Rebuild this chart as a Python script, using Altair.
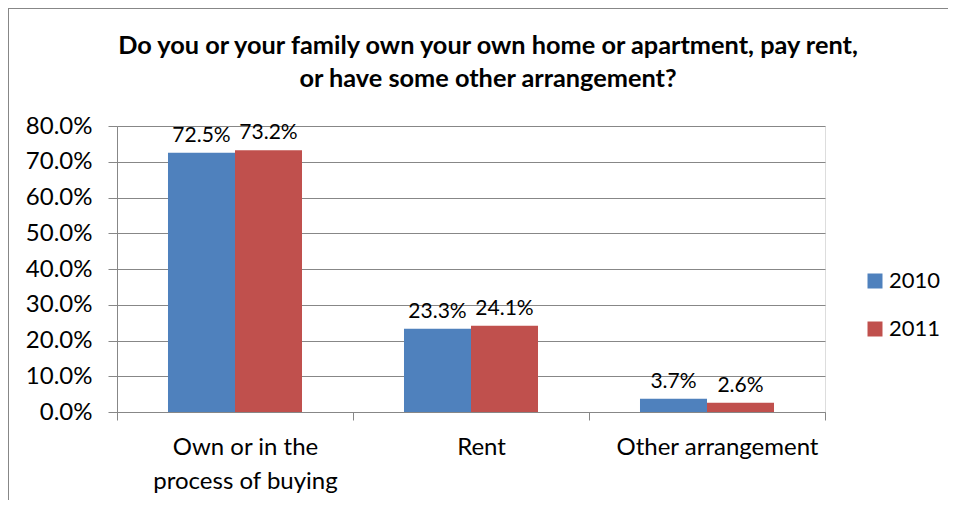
import altair as alt
import pandas as pd

categories = ["Own or in the process of buying", "Rent", "Other arrangement"]
years = ["2010", "2011"]
values_2010 = [72.5, 23.3, 3.7]
values_2011 = [73.2, 24.1, 2.6]
colors = ["#4F81BD", "#C0504D"]
y_ticks = [0, 0.1, 0.2, 0.3, 0.4, 0.5, 0.6, 0.7, 0.8]

rows = []
for c, v in zip(categories, values_2010):
    rows.append({"category": c, "year": "2010", "pct": v})
for c, v in zip(categories, values_2011):
    rows.append({"category": c, "year": "2011", "pct": v})
df = pd.DataFrame(rows)

FONT = "Lato"
GRID = "#878787"

label_expr = ("datum.label == 'Own or in the process of buying' ? "
              "['Own or in the', 'process of buying\u00a0\u00a0\u00a0'] : datum.label")

base = alt.Chart(df).transform_calculate(frac="datum.pct / 100").encode(
    x=alt.X("category:N", sort=categories, title=None,
            scale=alt.Scale(paddingInner=0, paddingOuter=0),
            axis=alt.Axis(labelAngle=0, labelExpr=label_expr, labelFontSize=24,
                          labelFont=FONT, labelColor="#000000", labelLineHeight=34,
                          labelPadding=15, labelLimit=400, labelOffset=10,
                          tickBand="extent", tickSize=8, tickColor=GRID,
                          domainColor=GRID, grid=False, labelBaseline="top")),
    xOffset=alt.XOffset("year:N", sort=years,
                        scale=alt.Scale(paddingInner=0, paddingOuter=0.761)),
    y=alt.Y("frac:Q", title=None,
            scale=alt.Scale(domain=[0, 0.8], nice=False, zero=True),
            axis=alt.Axis(format=".1%", values=y_ticks, labelFontSize=24,
                          labelFont=FONT, labelColor="#000000", labelPadding=16,
                          tickSize=9, tickColor=GRID, domainColor=GRID,
                          gridColor=GRID, gridOpacity=1)),
)

bars = base.mark_bar(stroke=None).encode(
    color=alt.Color("year:N", sort=years,
                    scale=alt.Scale(domain=years, range=colors),
                    legend=alt.Legend(title=None, orient="none", legendX=747,
                                      legendY=144, padding=0, symbolType="square",
                                      symbolSize=225, symbolStrokeWidth=0,
                                      labelFontSize=22, labelFont=FONT,
                                      labelColor="#000000", labelOffset=3,
                                      rowPadding=26))
)

labels = base.mark_text(baseline="alphabetic", dy=-11, fontSize=21,
                        font=FONT, color="#000000").encode(
    text=alt.Text("frac:Q", format=".1%")
)

frame_df = pd.DataFrame({"k": [0]})
left_border = alt.Chart(frame_df).mark_rule(color=GRID, strokeWidth=1).encode(
    x=alt.value(-108.5), x2=alt.value(-108.5), y=alt.value(-118), y2=alt.value(400)
)
top_border = alt.Chart(frame_df).mark_rule(color=GRID, strokeWidth=1).encode(
    x=alt.value(-109), x2=alt.value(850), y=alt.value(-117.5), y2=alt.value(-117.5)
)

chart = alt.layer(left_border, top_border, bars, labels).properties(
    width=708,
    height=286,
    title=alt.Title(
        ["Do you or your family own your own home or apartment, pay rent,",
         "or have some other arrangement?"],
        font=FONT, fontSize=25.3, fontWeight="bold", color="#000000",
        anchor="middle", dx=17, dy=85, lineHeight=33, offset=0),
    autosize=alt.AutoSizeParams(type="none"),
    padding={"left": 109, "top": 118, "right": 123, "bottom": 88},
).configure_view(stroke=None).configure(background="white")

chart.save("out.html", embed_options={"renderer": "svg", "actions": False})
